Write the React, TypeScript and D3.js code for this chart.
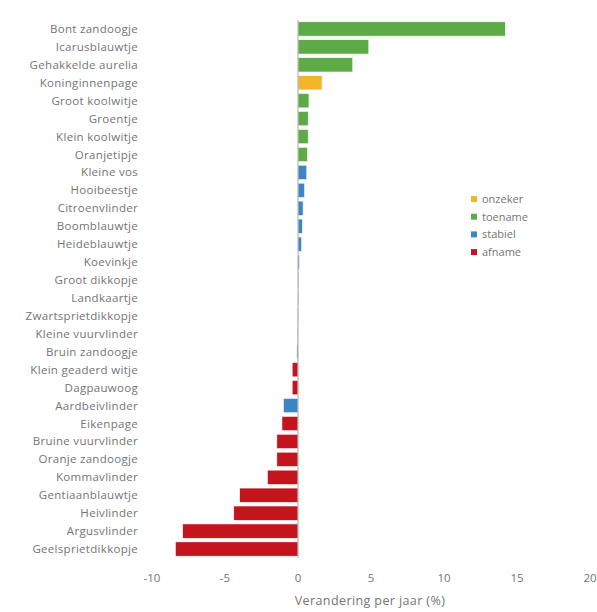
import React, { useEffect, useRef } from 'react';
import * as d3 from 'd3';

const species = [
  'Bont zandoogje', 'Icarusblauwtje', 'Gehakkelde aurelia', 'Koninginnenpage',
  'Groot koolwitje', 'Groentje', 'Klein koolwitje', 'Oranjetipje', 'Kleine vos',
  'Hooibeestje', 'Citroenvlinder', 'Boomblauwtje', 'Heideblauwtje', 'Koevinkje',
  'Groot dikkopje', 'Landkaartje', 'Zwartsprietdikkopje', 'Kleine vuurvlinder',
  'Bruin zandoogje', 'Klein geaderd witje', 'Dagpauwoog', 'Aardbeivlinder',
  'Eikenpage', 'Bruine vuurvlinder', 'Oranje zandoogje', 'Kommavlinder',
  'Gentiaanblauwtje', 'Heivlinder', 'Argusvlinder', 'Geelsprietdikkopje',
];

const change = [
  14.2, 4.85, 3.75, 1.65,
  0.75, 0.7, 0.7, 0.65, 0.6,
  0.45, 0.35, 0.3, 0.25, 0.1,
  0.05, 0.03, -0.03, -0.05,
  -0.08, -0.4, -0.4, -1.0,
  -1.1, -1.45, -1.45, -2.1,
  -4.0, -4.4, -7.9, -8.4,
];

const trend = [
  'toename', 'toename', 'toename', 'onzeker',
  'toename', 'toename', 'toename', 'toename', 'stabiel',
  'stabiel', 'stabiel', 'stabiel', 'stabiel', 'stabiel',
  'stabiel', 'stabiel', 'stabiel', 'stabiel',
  'stabiel', 'afname', 'afname', 'stabiel',
  'afname', 'afname', 'afname', 'afname',
  'afname', 'afname', 'afname', 'afname',
];

const legendLabels = ['onzeker', 'toename', 'stabiel', 'afname'];
const legendColors = ['#f5b52a', '#5cab47', '#3d86c6', '#c4151f'];
const xTicks = [-10, -5, 0, 5, 10, 15, 20];

const App: React.FC = () => {
  const ref = useRef<SVGSVGElement>(null);

  useEffect(() => {
    if (!ref.current) return;
    const svg = d3.select(ref.current);
    svg.selectAll('*').remove();

    const font = '"Open Sans", "Liberation Sans", sans-serif';
    const textColor = '#747474';

    const color = d3.scaleOrdinal<string, string>().domain(legendLabels).range(legendColors);

    const x = d3.scaleLinear().domain([-10, 20]).range([152, 590]);
    const y = d3.scaleBand().domain(species).range([20, 558]).paddingInner(0.2).paddingOuter(0.1);

    const rows = species.map((s, i) => ({ name: s, value: change[i], trend: trend[i] }));

    // bars
    svg.append('g')
      .selectAll('rect')
      .data(rows)
      .join('rect')
      .attr('x', d => x(Math.min(0, d.value)))
      .attr('y', d => y(d.name)!)
      .attr('width', d => Math.max(0.6, Math.abs(x(d.value) - x(0))))
      .attr('height', y.bandwidth())
      .attr('fill', d => color(d.trend))
      .attr('stroke', '#ffffff')
      .attr('stroke-width', 0.6);

    // zero line
    svg.append('line')
      .attr('x1', x(0)).attr('x2', x(0))
      .attr('y1', y.range()[0]).attr('y2', y.range()[1])
      .attr('stroke', '#a6a6a6')
      .attr('stroke-width', 1);

    // category labels
    svg.append('g')
      .selectAll('text')
      .data(species)
      .join('text')
      .attr('x', 138)
      .attr('y', d => y(d)! + y.bandwidth() / 2)
      .attr('dy', '0.35em')
      .attr('text-anchor', 'end')
      .style('font-family', font)
      .style('font-size', '11.5px')
      .style('letter-spacing', '0.3px')
      .attr('fill', textColor)
      .text(d => d);

    // x tick labels
    svg.append('g')
      .selectAll('text')
      .data(xTicks)
      .join('text')
      .attr('x', d => x(d))
      .attr('y', 582)
      .attr('text-anchor', 'middle')
      .style('font-family', font)
      .style('font-size', '11.5px')
      .attr('fill', textColor)
      .text(d => String(d));

    // axis title
    svg.append('text')
      .attr('x', 370)
      .attr('y', 605)
      .attr('text-anchor', 'middle')
      .style('font-family', font)
      .style('font-size', '12.5px')
      .style('letter-spacing', '0.4px')
      .attr('fill', textColor)
      .text('Verandering per jaar (%)');

    // legend
    const legend = svg.append('g').attr('transform', 'translate(474,199)');
    legendLabels.forEach((lab, i) => {
      const row = legend.append('g').attr('transform', `translate(0,${i * 17.7})`);
      row.append('rect')
        .attr('x', -3).attr('y', -3)
        .attr('width', 6).attr('height', 6)
        .attr('fill', legendColors[i]);
      row.append('text')
        .attr('x', 8)
        .attr('dy', '0.35em')
        .style('font-family', font)
        .style('font-size', '11px')
        .attr('fill', textColor)
        .text(lab);
    });
  }, []);

  return (
    <svg
      ref={ref}
      width={597}
      height={612}
      style={{ position: 'absolute', left: 0, top: 0, background: '#ffffff' }}
    />
  );
};

export default App;
